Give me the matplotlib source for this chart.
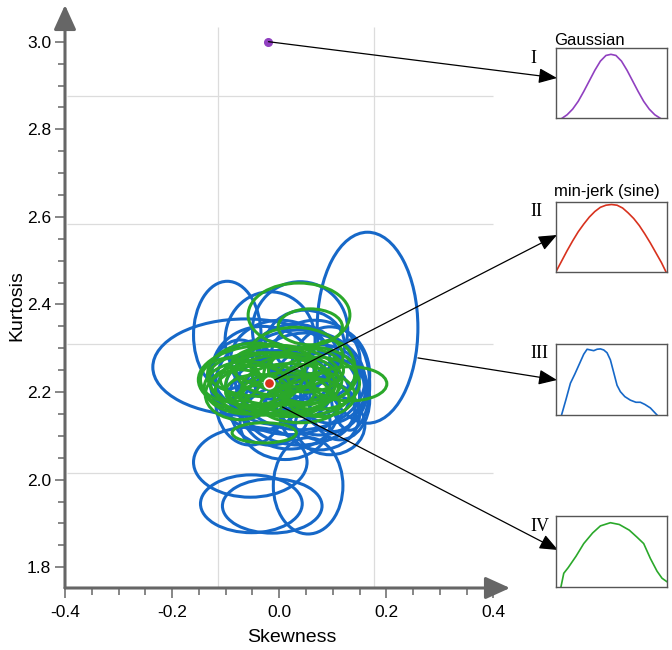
import numpy as np
import matplotlib
matplotlib.use("Agg")
import matplotlib.pyplot as plt
from matplotlib.patches import Ellipse

plt.rcParams['font.family'] = ['Liberation Sans', 'DejaVu Sans']

W, H = 672, 650

# blue ellipses: centre skewness, centre kurtosis, semi-axis skewness, semi-axis kurtosis
blue_cx = [0.165, -0.063, -0.097, 0.039, -0.017, -0.054, -0.052, -0.013, 0.054,
           0.039, 0.076, 0.095, 0.011, 0.039, -0.035, 0.002, 0.067, 0.113,
           -0.054, -0.017, 0.076, 0.020, 0.048, -0.073, 0.132, 0.095,
           0.000, 0.050, -0.030, 0.080, 0.020, -0.060, 0.100, 0.030]
blue_cy = [2.347, 2.257, 2.330, 2.342, 2.319, 2.040, 1.945, 1.940, 1.986,
           2.228, 2.205, 2.239, 2.130, 2.159, 2.216, 2.273, 2.273, 2.182,
           2.182, 2.159, 2.148, 2.194, 2.307, 2.228, 2.216, 2.125,
           2.210, 2.240, 2.250, 2.190, 2.160, 2.230, 2.200, 2.280]
blue_sx = [0.094, 0.173, 0.063, 0.089, 0.084, 0.106, 0.095, 0.093, 0.065,
           0.121, 0.089, 0.074, 0.084, 0.102, 0.084, 0.093, 0.084, 0.056,
           0.065, 0.074, 0.074, 0.112, 0.074, 0.056, 0.037, 0.065,
           0.100, 0.100, 0.095, 0.070, 0.090, 0.070, 0.060, 0.080]
blue_sy = [0.218, 0.110, 0.123, 0.110, 0.110, 0.080, 0.066, 0.062, 0.110,
           0.114, 0.103, 0.110, 0.084, 0.080, 0.103, 0.091, 0.091, 0.091,
           0.103, 0.080, 0.080, 0.091, 0.080, 0.091, 0.103, 0.068,
           0.085, 0.095, 0.100, 0.100, 0.090, 0.080, 0.090, 0.075]

# green ellipses
green_cx = [0.037, 0.058, 0.132, -0.028, -0.017, -0.045, 0.058, 0.030, -0.026, 0.011,
            -0.054, -0.007, 0.076, 0.039, -0.073, 0.095, 0.002, -0.091, -0.035, 0.048,
            0.000, -0.030, 0.020, 0.050, -0.060, 0.030, -0.010, 0.070, -0.040, 0.010]
green_cy = [2.376, 2.349, 2.219, 2.107, 2.228, 2.239, 2.239, 2.280, 2.205, 2.194,
            2.216, 2.250, 2.194, 2.171, 2.194, 2.250, 2.216, 2.228, 2.182, 2.216,
            2.230, 2.240, 2.210, 2.250, 2.210, 2.190, 2.260, 2.220, 2.200, 2.240]
green_sx = [0.095, 0.060, 0.069, 0.060, 0.134, 0.089, 0.087, 0.089, 0.093, 0.084,
            0.074, 0.074, 0.065, 0.074, 0.065, 0.047, 0.102, 0.056, 0.047, 0.047,
            0.110, 0.100, 0.090, 0.070, 0.080, 0.100, 0.080, 0.080, 0.060, 0.060]
green_sy = [0.073, 0.041, 0.039, 0.023, 0.080, 0.073, 0.064, 0.068, 0.057, 0.050,
            0.046, 0.057, 0.050, 0.041, 0.057, 0.068, 0.068, 0.050, 0.034, 0.046,
            0.060, 0.050, 0.055, 0.050, 0.060, 0.045, 0.045, 0.060, 0.040, 0.040]

gauss_pt = (-0.020, 3.0)
sine_pt = (-0.019, 2.221)
iii_start = (0.259, 2.278)
iv_start = (0.006, 2.166)

grid_x = [-0.115, 0.177]
grid_y = [2.876, 2.583, 2.309, 2.016]

# inset profiles (normalised time, normalised velocity)
g_x = [0.054, 0.10, 0.15, 0.20, 0.25, 0.30, 0.35, 0.40, 0.45, 0.495,
       0.54, 0.59, 0.64, 0.69, 0.74, 0.79, 0.84, 0.89, 0.94]
g_y = [0.0, 0.05, 0.13, 0.24, 0.38, 0.53, 0.68, 0.81, 0.89, 0.906,
       0.89, 0.81, 0.68, 0.53, 0.38, 0.24, 0.13, 0.05, 0.0]
s_x = [0.0, 0.05, 0.1, 0.15, 0.2, 0.25, 0.3, 0.35, 0.4, 0.45, 0.5,
       0.55, 0.6, 0.65, 0.7, 0.75, 0.8, 0.85, 0.9, 0.95, 0.99]
s_y = [0.0, 0.15, 0.30, 0.44, 0.57, 0.68, 0.78, 0.86, 0.92, 0.95, 0.96,
       0.95, 0.91, 0.84, 0.76, 0.66, 0.54, 0.41, 0.27, 0.13, 0.0]
b_x = [0.05, 0.09, 0.13, 0.17, 0.21, 0.25, 0.28, 0.31, 0.34, 0.37, 0.40, 0.43,
       0.46, 0.49, 0.52, 0.55, 0.58, 0.62, 0.67, 0.72, 0.76, 0.80, 0.85, 0.91]
b_y = [0.0, 0.22, 0.45, 0.58, 0.72, 0.86, 0.93, 0.92, 0.91, 0.93, 0.935, 0.92,
       0.88, 0.78, 0.60, 0.42, 0.33, 0.26, 0.21, 0.18, 0.18, 0.15, 0.10, 0.0]
e_x = [0.045, 0.07, 0.11, 0.18, 0.25, 0.33, 0.40, 0.49, 0.57, 0.66, 0.73,
       0.79, 0.85, 0.91, 0.955, 1.0]
e_y = [0.0, 0.19, 0.27, 0.43, 0.61, 0.76, 0.86, 0.905, 0.88, 0.80, 0.70,
       0.61, 0.40, 0.22, 0.12, 0.07]

BLUE = '#1668c8'
GREEN = '#2aa82a'
PURPLE = '#9040c0'
RED = '#d8321e'
AXC = '#666666'


def fx(px):
    return px / W


def fy(py):
    return 1 - py / H


fig = plt.figure(figsize=(W / 100, H / 100), dpi=100)
ax = fig.add_axes([fx(65), fy(588), (510 - 65) / W, (588 - 5) / H])
ax.set_xlim(-0.3968, 0.431)
ax.set_ylim(1.7527, 3.0838)
for s in ax.spines.values():
    s.set_visible(False)

ax.vlines(grid_x, 1.7527, 3.034, color='#dcdcdc', lw=0.9, zorder=0)
ax.hlines(grid_y, -0.3968, 0.4, color='#dcdcdc', lw=0.9, zorder=0)

for cx, cy, sx, sy in zip(blue_cx, blue_cy, blue_sx, blue_sy):
    ax.add_patch(Ellipse((cx, cy), 2 * sx, 2 * sy, fill=False, ec=BLUE, lw=2.2, zorder=2))
for cx, cy, sx, sy in zip(green_cx, green_cy, green_sx, green_sy):
    ax.add_patch(Ellipse((cx, cy), 2 * sx, 2 * sy, fill=False, ec=GREEN, lw=2.2, zorder=3))

ax.plot(*gauss_pt, 'o', color=PURPLE, ms=5.5, zorder=5, clip_on=False)
ax.plot(*sine_pt, 'o', color=RED, mec='white', mew=1.2, ms=7.5, zorder=7)

# axis lines with arrow heads
arr = dict(arrowstyle='-|>,head_length=15,head_width=6.8', lw=2.2, color=AXC,
           mutation_scale=1, shrinkA=0, shrinkB=0)
ax.annotate('', xy=(0, 1), xytext=(0, 0), xycoords='axes fraction', arrowprops=arr)
ax.annotate('', xy=(1, 0), xytext=(0, 0), xycoords='axes fraction', arrowprops=arr)

ax.set_xticks(np.arange(-0.4, 0.41, 0.2))
ax.set_xticklabels(['-0.4', '-0.2', '0.0', '0.2', '0.4'])
ax.set_xticks(np.arange(-0.4, 0.41, 0.05), minor=True)
ax.set_yticks(np.arange(1.8, 3.01, 0.2))
ax.set_yticklabels(['1.8', '2.0', '2.2', '2.4', '2.6', '2.8', '3.0'])
ax.set_yticks(np.arange(1.8, 3.01, 0.05), minor=True)
ax.tick_params(which='major', length=7, width=1.1, color=AXC, labelsize=12.5, pad=3)
ax.tick_params(which='minor', length=4.8, width=1.1, color=AXC)
ax.tick_params(axis='x', which='major', pad=5)

fig.text(fx(292), fy(637), 'Skewness', fontsize=14, ha='center', va='center')
fig.text(fx(17), fy(306), 'Kurtosis', fontsize=14, ha='center', va='center', rotation=90)

# insets
boxes = [(47.7, 118.3), (201.7, 271.7), (344.3, 415.0), (516.0, 586.7)]
curves = [(g_x, g_y, PURPLE), (s_x, s_y, RED), (b_x, b_y, BLUE), (e_x, e_y, GREEN)]
for (top, bot), (cx, cy, col) in zip(boxes, curves):
    ia = fig.add_axes([fx(556), fy(bot), 111 / W, (bot - top) / H])
    ia.plot(cx, cy, color=col, lw=1.2)
    ia.set_xlim(0, 1)
    ia.set_ylim(0, 1)
    ia.set_xticks([])
    ia.set_yticks([])
    for s in ia.spines.values():
        s.set_color('#555555')
        s.set_linewidth(1.0)

fig.text(fx(554), fy(45), 'Gaussian', fontsize=12, ha='left', va='baseline')
fig.text(fx(554), fy(196), 'min-jerk (sine)', fontsize=12, ha='left', va='baseline')
for lab, py in zip(['I', 'II', 'III', 'IV'], [63, 216, 358, 531]):
    fig.text(fx(530), fy(py), lab, fontsize=13, ha='left', va='baseline',
             family=['Liberation Serif', 'DejaVu Serif'])

# pointer arrows
parr = dict(arrowstyle='-|>,head_length=0.8,head_width=0.33', lw=0.9, color='black',
            mutation_scale=14, shrinkA=0, shrinkB=0)
starts = [gauss_pt, sine_pt, iii_start, iv_start]
tips = [(557, 78), (557, 235), (557, 380), (558, 550)]
for st, (tx, ty) in zip(starts, tips):
    ax.annotate('', xy=(fx(tx), fy(ty)), xycoords='figure fraction',
                xytext=st, textcoords='data', arrowprops=parr, zorder=6)

fig.savefig('out.png', dpi=100)
